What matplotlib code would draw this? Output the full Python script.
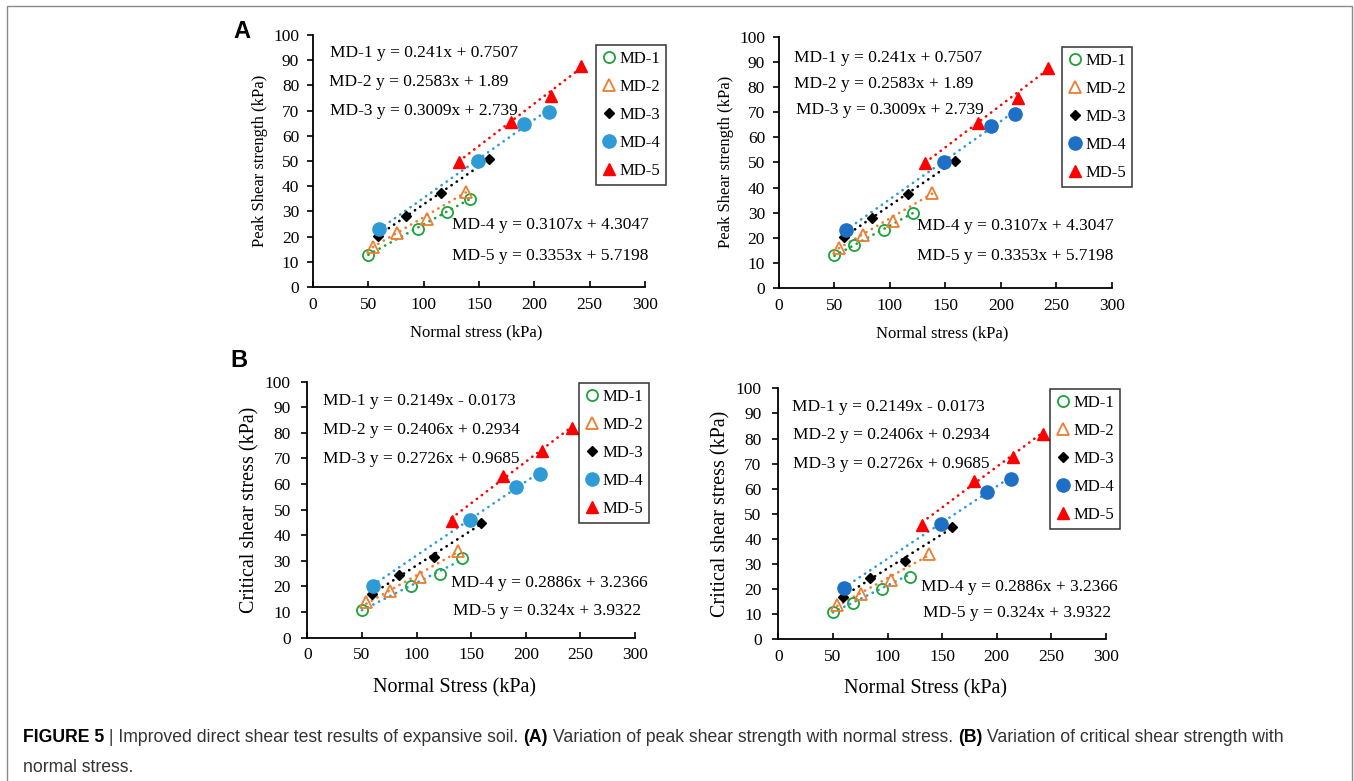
import matplotlib
matplotlib.use("Agg")
import matplotlib.pyplot as plt
from matplotlib import font_manager
from matplotlib.lines import Line2D

plt.rcParams['font.family'] = ['Liberation Serif', 'DejaVu Serif']

# series names and equations (Excel trendlines)
names = ['MD-1', 'MD-2', 'MD-3', 'MD-4', 'MD-5']

peak_slope = [0.241, 0.2583, 0.3009, 0.3107, 0.3353]
peak_icpt = [0.7507, 1.89, 2.739, 4.3047, 5.7198]
peak_eqs = ['MD-1 y = 0.241x + 0.7507', 'MD-2 y = 0.2583x + 1.89',
            'MD-3 y = 0.3009x + 2.739', 'MD-4 y = 0.3107x + 4.3047',
            'MD-5 y = 0.3353x + 5.7198']

crit_slope = [0.2149, 0.2406, 0.2726, 0.2886, 0.324]
crit_icpt = [-0.0173, 0.2934, 0.9685, 3.2366, 3.9322]
crit_eqs = ['MD-1 y = 0.2149x - 0.0173', 'MD-2 y = 0.2406x + 0.2934',
            'MD-3 y = 0.2726x + 0.9685', 'MD-4 y = 0.2886x + 3.2366',
            'MD-5 y = 0.324x + 3.9322']

# normal stress (kPa)
x_md1_left = [50, 95, 121, 142]
x_md1_right = [50, 68, 95, 121]
x_md2 = [54, 76, 103, 138]
x_md3 = [59, 84, 116, 159]
x_md4 = [60, 149, 191, 213]
x_md5 = [132, 179, 215, 242]

# peak shear strength (kPa)
peak_md1_left = [12.8, 22.9, 29.8, 35.0]
peak_md1_right = [13.0, 17.2, 23.1, 29.9]
peak_md2 = [15.8, 21.3, 26.8, 37.8]
peak_md3 = [20.4, 28.0, 37.3, 50.6]
peak_md4 = [22.9, 50.0, 64.6, 69.4]
peak_md5 = [49.8, 65.5, 75.6, 87.6]

# critical shear stress (kPa)
crit_md1_left = [10.8, 20.2, 24.9, 31.1]
crit_md1_right = [10.8, 14.3, 20.1, 24.7]
crit_md2 = [13.8, 18.1, 23.6, 33.9]
crit_md3 = [16.9, 24.5, 31.4, 44.7]
crit_md4 = [20.3, 46.1, 58.7, 63.8]
crit_md5 = [45.6, 63.2, 72.8, 81.9]

GREEN = '#1BA33B'
ORANGE = '#ED7D31'
LIGHTBLUE = '#2E9AD6'
DARKBLUE = '#1E70C6'
RED = '#FF0000'


def marker_styles(blue):
    return [
        dict(marker='o', mfc='none', mec=GREEN, ms=8, mew=1.3),
        dict(marker='^', mfc='none', mec=ORANGE, ms=8.5, mew=1.3),
        dict(marker='D', mfc='black', mec='black', ms=5.5),
        dict(marker='o', mfc=blue, mec=blue, ms=9.5),
        dict(marker='^', mfc=RED, mec=RED, ms=8),
    ]


def draw_panel(rect, xs, ys, slopes, icpts, eqs, eq_pos, line_colors, blue,
               ylabel, xlabel, lab_size, leg_anchor, ypad, xlab_pos):
    ax = fig.add_axes(rect)
    styles = marker_styles(blue)
    handles = []
    for i in range(5):
        x0, x1 = min(xs[i]), max(xs[i])
        ax.plot([x0, x1], [slopes[i] * x0 + icpts[i], slopes[i] * x1 + icpts[i]],
                color=line_colors[i], lw=1.9, linestyle=(0, (0.1, 2.3)),
                dash_capstyle='round', zorder=2)
        h, = ax.plot(xs[i], ys[i], linestyle='none', zorder=3, **styles[i])
        handles.append(h)
    for t, (px, py) in zip(eqs, eq_pos):
        ax.text(px, py, t, transform=ax.transAxes, fontsize=12.5,
                ha='left', va='center')
    ax.set_xlim(0, 300)
    ax.set_ylim(0, 100)
    ax.set_xticks(range(0, 301, 50))
    ax.set_yticks(range(0, 101, 10))
    for s in ['top', 'right']:
        ax.spines[s].set_visible(False)
    for s in ['left', 'bottom']:
        ax.spines[s].set_linewidth(1.3)
    ax.tick_params(axis='x', direction='in', length=4, width=1.2, labelsize=12.5, pad=7)
    ax.tick_params(axis='y', direction='out', length=4, width=1.2, labelsize=12.5, pad=ypad)
    ax.set_ylabel(ylabel, fontsize=lab_size, labelpad=4)
    ax.set_xlabel(xlabel, fontsize=lab_size)
    ax.xaxis.set_label_coords(*xlab_pos)
    leg = ax.legend(handles, names, loc='upper left', bbox_to_anchor=leg_anchor,
                    fontsize=12, frameon=True, fancybox=False, edgecolor='black',
                    handlelength=0.9, handletextpad=0.15, labelspacing=0.72,
                    borderpad=0.35, borderaxespad=0, numpoints=1)
    leg.get_frame().set_linewidth(1.1)
    return ax


fig = plt.figure(figsize=(13.54, 7.81), dpi=100)

peak_left_x = [x_md1_left, x_md2, x_md3, x_md4, x_md5]
peak_left_y = [peak_md1_left, peak_md2, peak_md3, peak_md4, peak_md5]
peak_right_x = [x_md1_right, x_md2, x_md3, x_md4, x_md5]
peak_right_y = [peak_md1_right, peak_md2, peak_md3, peak_md4, peak_md5]
crit_left_y = [crit_md1_left, crit_md2, crit_md3, crit_md4, crit_md5]
crit_right_y = [crit_md1_right, crit_md2, crit_md3, crit_md4, crit_md5]

draw_panel([0.2312, 0.6325, 0.2452, 0.3227], peak_left_x, peak_left_y,
           peak_slope, peak_icpt, peak_eqs,
           [(0.051, 0.929), (0.048, 0.813), (0.051, 0.698), (0.419, 0.246), (0.419, 0.123)],
           [GREEN, ORANGE, 'black', LIGHTBLUE, RED], LIGHTBLUE,
           'Peak Shear strength (kPa)', 'Normal stress (kPa)', 12, (0.852, 0.960), 6,
           (0.49, -0.15))

draw_panel([0.5753, 0.6312, 0.2459, 0.3218], peak_right_x, peak_right_y,
           peak_slope, peak_icpt, peak_eqs,
           [(0.046, 0.914), (0.045, 0.812), (0.051, 0.707), (0.415, 0.245), (0.415, 0.126)],
           [GREEN, ORANGE, 'black', LIGHTBLUE, RED], DARKBLUE,
           'Peak Shear strength (kPa)', 'Normal stress (kPa)', 12, (0.850, 0.958), 6,
           (0.49, -0.15))

draw_panel([0.2270, 0.1835, 0.2420, 0.3278], peak_left_x, crit_left_y,
           crit_slope, crit_icpt, crit_eqs,
           [(0.047, 0.926), (0.047, 0.811), (0.047, 0.697), (0.4376, 0.2125), (0.444, 0.105)],
           [LIGHTBLUE, ORANGE, 'black', LIGHTBLUE, RED], LIGHTBLUE,
           'Critical shear stress (kPa)', 'Normal Stress (kPa)', 14.5, (0.829, 0.995), 8,
           (0.45, -0.157))

draw_panel([0.5748, 0.1814, 0.2420, 0.3214], peak_right_x, crit_right_y,
           crit_slope, crit_icpt, crit_eqs,
           [(0.041, 0.924), (0.044, 0.813), (0.044, 0.697), (0.4345, 0.210), (0.4425, 0.106)],
           [LIGHTBLUE, ORANGE, 'black', LIGHTBLUE, RED], DARKBLUE,
           'Critical shear stress (kPa)', 'Normal Stress (kPa)', 14.5, (0.829, 0.997), 8,
           (0.45, -0.16))

W, H = 1354, 781

# panel letters
fig.text(242 / W, 1 - 31 / H, 'A', family='Liberation Sans', weight='bold',
         fontsize=17, ha='center', va='center')
fig.text(239 / W, 1 - 360 / H, 'B', family='Liberation Sans', weight='bold',
         fontsize=17, ha='center', va='center')

# frame around the figure (open at the bottom)
fig.add_artist(Line2D([7 / W, 7 / W, 1352 / W, 1352 / W], [0, 1 - 6 / H, 1 - 6 / H, 0],
                      transform=fig.transFigure, color='#8a8a8a', lw=1))

# caption
try:
    font_manager.findfont('Liberation Sans Narrow', fallback_to_default=False)
    cap_family, cap_size = 'Liberation Sans Narrow', 13
except ValueError:
    cap_family, cap_size = 'Liberation Sans', 12.7

line1 = [('FIGURE 5', 'bold', 'black'), (' | Improved direct shear test results of expansive soil. ', 'normal', '#333333'),
         ('(A)', 'bold', 'black'), (' Variation of peak shear strength with normal stress. ', 'normal', '#333333'),
         ('(B)', 'bold', 'black'), (' Variation of critical shear strength with', 'normal', '#333333')]
renderer = fig.canvas.get_renderer()
xpos = 23
for txt, wt, col in line1:
    t = fig.text(xpos / W, 1 - 737 / H, txt, family=cap_family, weight=wt, color=col,
                 fontsize=cap_size, ha='left', va='center')
    xpos = t.get_window_extent(renderer).x1
fig.text(23 / W, 1 - 767 / H, 'normal stress.', family=cap_family, color='#333333',
         fontsize=cap_size, ha='left', va='center')

fig.savefig('out.png', dpi=100)
